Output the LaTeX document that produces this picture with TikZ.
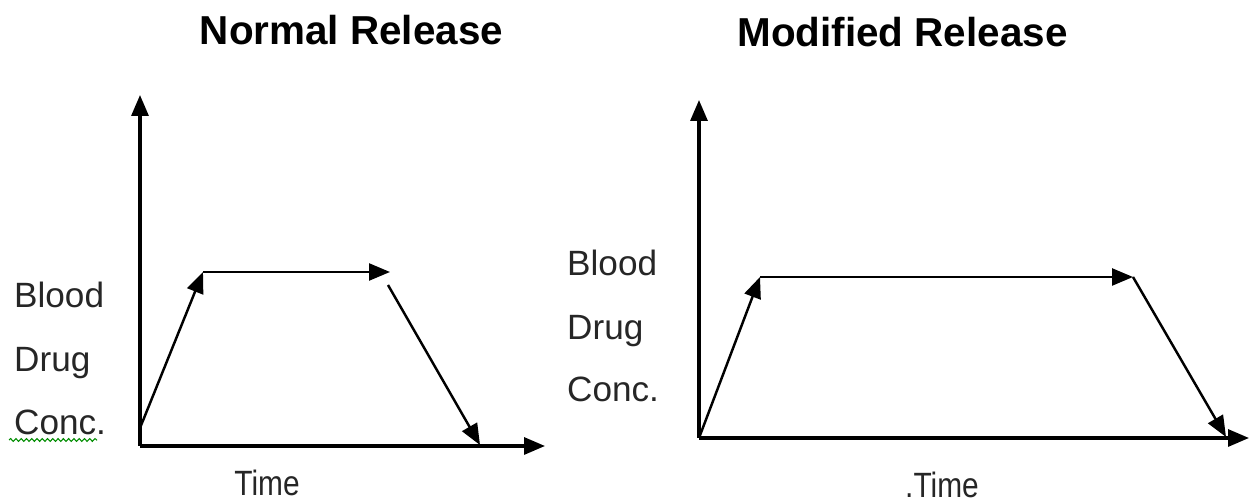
\documentclass[tikz,border=0pt]{standalone}
\usepackage{graphicx}
\usepackage{fontspec}
\setmainfont{Liberation Sans}
\usetikzlibrary{arrows.meta,decorations.pathmorphing}

\begin{document}
\begin{tikzpicture}[>={Triangle[length=0.42cm,width=0.34cm]},
  axisline/.style={->, line width=1.8pt},
  flowline/.style={->, line width=1.4pt},
  ylab/.style={anchor=base west, font=\fontsize{20}{24}\selectfont, text=black!85},
  xlab/.style={anchor=base, font=\fontsize{20}{24}\selectfont, text=black!85},
  paneltitle/.style={anchor=base, font=\fontsize{23}{28}\selectfont\bfseries}]
\useasboundingbox (0,0) rectangle (25.02,10.08);

% --- Left panel: Normal release ---
\begin{scope}[shift={(2.8,1.16)}]
  \node[paneltitle] (nr-title) at (4.23, 8.02) {Normal Release};
  % Axes
  \coordinate (nr-o) at (0,0);
  \coordinate (nr-y) at (0,7.02);
  \coordinate (nr-x) at (8.1,0);
  \draw[axisline] (nr-o) -- (nr-y);
  \draw[axisline] (nr-o) -- (nr-x);
  % Release profile (rise, plateau, fall)
  \coordinate (nr-a) at (0,0.36);
  \coordinate (nr-b) at (1.26,3.48);
  \coordinate (nr-c) at (5.0,3.48);
  \coordinate (nr-d) at (4.96,3.22);
  \coordinate (nr-e) at (6.8,0.02);
  \draw[flowline] (nr-a) -- (nr-b);
  \draw[flowline] (nr-b) -- (nr-c);
  \draw[flowline] (nr-d) -- (nr-e);
  % Labels
  \node[ylab] (nr-blood) at (-2.64, 2.76) {Blood};
  \node[ylab] (nr-drug) at (-2.64, 1.48) {Drug};
  \node[ylab] (nr-conc) at (-2.64, 0.22) {Conc.};
  \draw[green!55!black, line width=0.6pt, decorate,
    decoration={snake, amplitude=0.8pt, segment length=3pt}]
    (-2.62, 0.12) -- (-0.86, 0.12);
  \node[xlab] (nr-time) at (2.54, -1.0) {\scalebox{0.85}[1]{Time}};
\end{scope}

% --- Right panel: Modified release ---
\begin{scope}[shift={(13.98,1.32)}]
  \node[paneltitle] (mr-title) at (4.07, 7.82) {Modified Release};
  % Axes
  \coordinate (mr-o) at (0,0);
  \coordinate (mr-y) at (0,6.76);
  \coordinate (mr-x) at (11.0,0);
  \draw[axisline] (mr-o) -- (mr-y);
  \draw[axisline] (mr-o) -- (mr-x);
  % Release profile (rise, long plateau, fall)
  \coordinate (mr-b) at (1.22,3.22);
  \coordinate (mr-c) at (8.68,3.22);
  \coordinate (mr-e) at (10.54,0.02);
  \draw[flowline] (mr-o) -- (mr-b);
  \draw[flowline] (mr-b) -- (mr-c);
  \draw[flowline] (mr-c) -- (mr-e);
  % Labels
  \node[ylab] (mr-blood) at (-2.76, 3.24) {Blood};
  \node[ylab] (mr-drug) at (-2.76, 1.96) {Drug};
  \node[ylab] (mr-conc) at (-2.76, 0.72) {Conc.};
  \node[xlab] (mr-time) at (4.86, -1.2) {\scalebox{0.85}[1]{.Time}};
\end{scope}

\end{tikzpicture}
\end{document}
